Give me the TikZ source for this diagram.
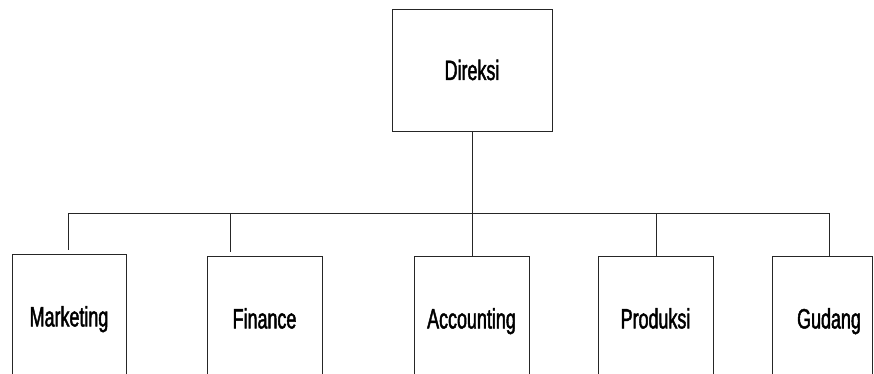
\documentclass[tikz,border=0pt]{standalone}
\usepackage{fontspec}
\setmainfont{Liberation Sans}[FakeStretch=0.64,FakeBold=1.6]
\usetikzlibrary{calc}
\tikzset{orgline/.style={line width=0.9pt,draw=black!85}}
\tikzset{unitbox/.style={orgline,rectangle,inner sep=0pt,minimum width=115pt,minimum height=124pt,text height=20pt,text depth=0pt,font=\fontsize{28}{30}\selectfont}}

\begin{document}
\begin{tikzpicture}[x=1pt,y=-1pt,orgline]
\clip (0,0) rectangle (874,374);

% top box
\node[unitbox,minimum width=160pt,minimum height=122pt] (direksi) at (472,70) {Direksi};

% unit boxes, open at the bottom edge of the page
\node[unitbox,anchor=north,minimum width=114pt] (marketing) at (69,254) {Marketing};
\node[unitbox,anchor=north] (finance) at (264.5,256) {Finance};
\node[unitbox,anchor=north] (accounting) at (471.5,256) {Accounting};
\node[unitbox,anchor=north] (produksi) at (655.5,256) {Produksi};
\node[unitbox,anchor=north,minimum width=100pt] (gudang) at (822,256) {\hspace*{14pt}Gudang};

% bus line
\coordinate (busA) at (68,213);
\coordinate (busB) at (230,213);
\coordinate (busC) at (472,213);
\coordinate (busD) at (656,213);
\coordinate (busE) at (829,213);
\draw (busA) -- (busE);
\draw (direksi.south) -- (direksi.south |- accounting.north);
\draw[shorten >=4pt] (busA) -- (busA |- marketing.north);
\draw[shorten >=4pt] (busB) -- (busB |- finance.north);
\draw (busD) -- (busD |- produksi.north);
\draw (busE) -- (busE |- gudang.north);
\end{tikzpicture}
\end{document}
